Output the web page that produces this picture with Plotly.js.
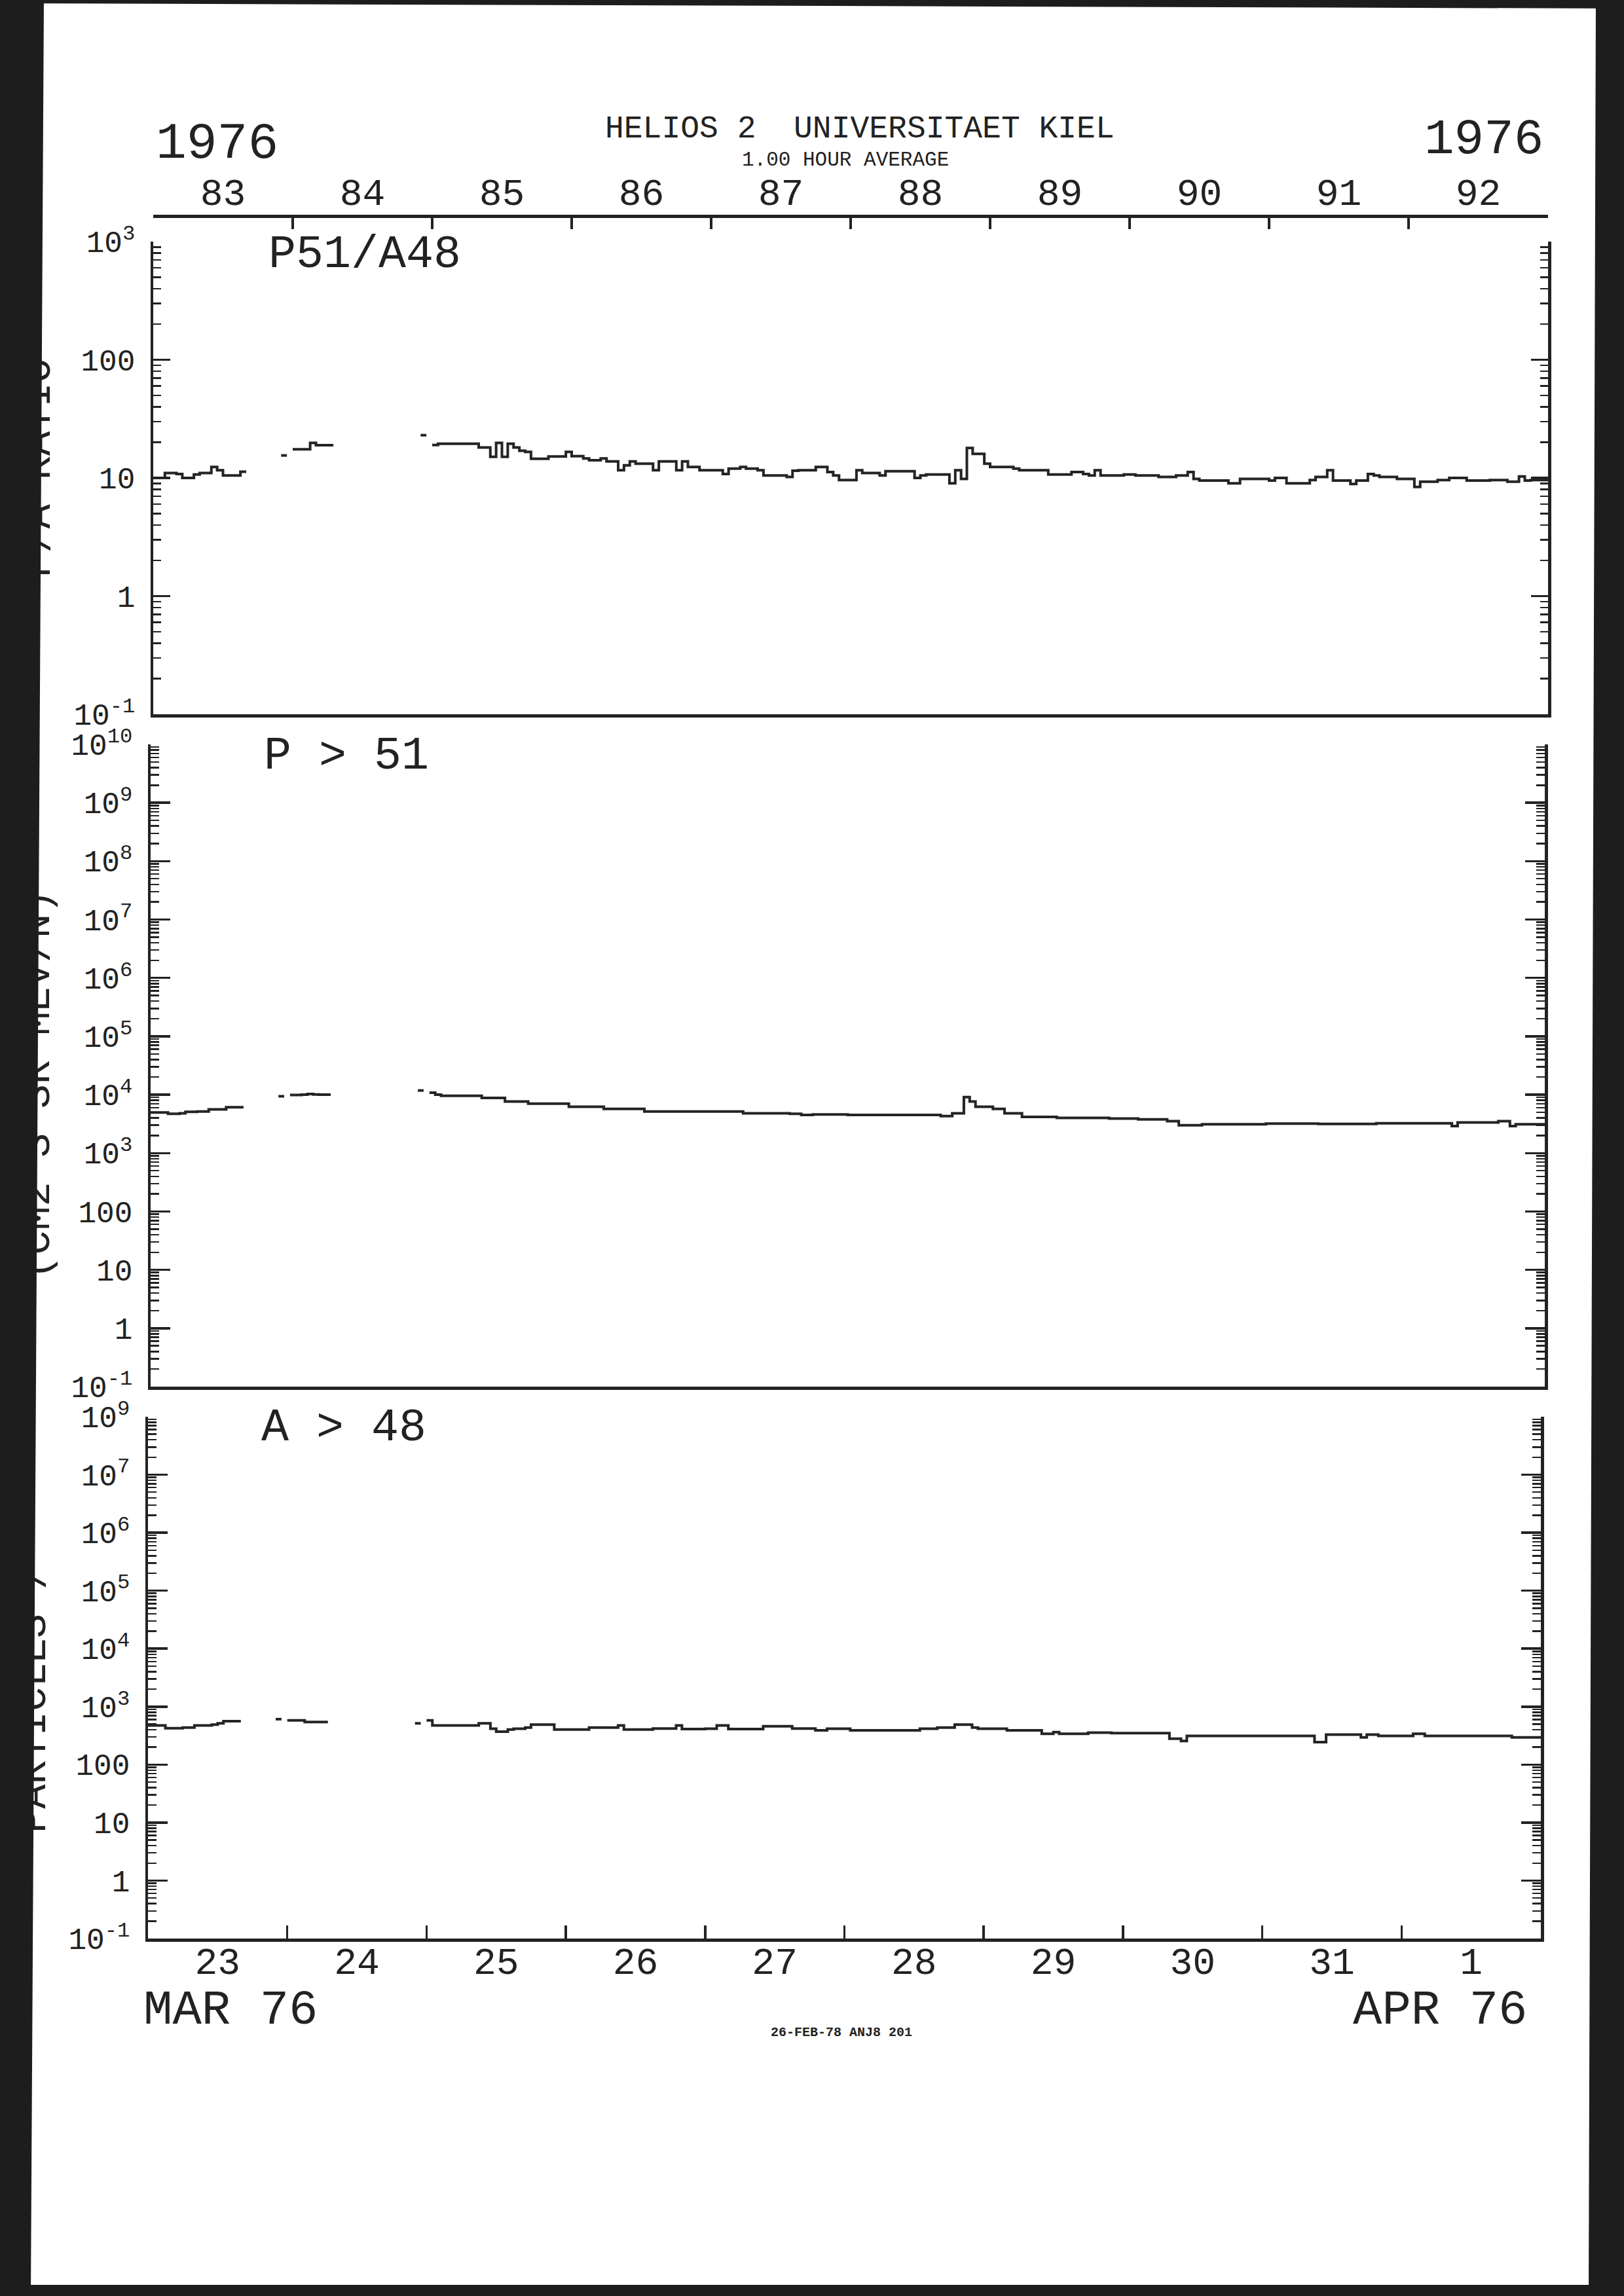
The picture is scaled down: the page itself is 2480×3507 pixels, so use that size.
<!DOCTYPE html>
<html>
<head>
<meta charset="utf-8">
<script src="https://cdn.plot.ly/plotly-3.0.1.min.js"></script>
<style>
html,body{margin:0;padding:0;background:#fff;}
#wrap{position:relative;width:2480px;height:3507px;overflow:hidden;}
#chart{position:absolute;left:0;top:0;width:2480px;height:3507px;}
.band{position:absolute;background:#1d1d1d;z-index:10;}
</style>
</head>
<body>
<div id="wrap">
<div id="chart"></div>
<div class="band" style="left:0;top:0;width:70px;height:3507px;clip-path:polygon(0 0,67px 0,47px 100%,0 100%);"></div>
<div class="band" style="left:2426px;top:0;width:54px;height:3507px;clip-path:polygon(11px 0,100% 0,100% 100%,0 100%);"></div>
<div class="band" style="left:0;top:0;width:2480px;height:14px;clip-path:polygon(0 0,100% 0,100% 13px,0 5px);"></div>
<div class="band" style="left:0;top:3490px;width:2480px;height:17px;"></div>
</div>
<script>
// ---------------- DATA (1-hour averages, hour 0 = 1976 day 83, 00:00) ----------------
const startDoy = 83;
const doyLabels = ['83','84','85','86','87','88','89','90','91','92'];
const dayLabels = ['23','24','25','26','27','28','29','30','31','1'];

// P51/A48 ratio, one value per hour (null = no data)
const ratioP51A48 = [
 10.0,10.0,11.0,11.0,10.8,10.0,10.0,10.7,11.0,11.0,12.4,11.6,10.5,10.5,10.5,11.3,null,null,null,null,null,null,15.5,null,
 17.5,17.5,17.5,19.8,18.9,18.9,18.9,null,null,null,null,null,null,null,null,null,null,null,null,null,null,null,23.0,null,
 19.0,19.5,19.5,19.5,19.5,19.5,19.5,19.5,18.1,18.1,15.1,19.8,15.1,19.5,18.1,17.0,16.6,14.5,14.5,14.5,15.2,15.2,15.2,16.6,
 15.3,15.3,14.6,14.1,14.1,14.6,13.8,13.8,11.6,12.8,13.8,13.2,13.2,13.2,11.6,13.8,13.8,13.8,11.6,13.8,12.4,12.4,11.6,11.6,
 11.6,11.6,10.8,12.0,12.0,12.4,12.0,12.0,11.6,10.5,10.5,10.5,10.5,10.2,11.5,11.6,11.6,11.6,12.4,12.4,11.2,10.5,9.6,9.6,
 9.6,11.6,11.0,11.0,11.0,10.5,11.4,11.4,11.4,11.4,11.4,10.0,10.5,10.7,10.7,10.7,10.7,9.0,11.6,9.8,17.9,16.0,16.0,13.2,
 12.4,12.4,12.4,12.4,12.0,11.6,11.6,11.6,11.6,11.6,10.7,10.7,10.7,10.7,11.2,11.2,10.8,10.5,11.6,10.5,10.5,10.5,10.5,10.7,
 10.7,10.5,10.5,10.5,10.5,10.2,10.2,10.2,10.5,10.5,11.2,9.8,9.5,9.5,9.5,9.5,9.5,9.0,9.0,9.8,9.8,9.8,9.8,9.8,
 9.5,10.0,10.0,9.0,9.0,9.0,9.0,9.6,10.2,10.2,11.6,9.5,9.5,9.5,8.9,9.5,9.5,10.8,10.5,10.2,10.2,10.2,9.8,9.8,
 9.8,8.4,9.3,9.3,9.3,9.6,9.6,10.0,10.0,10.0,9.5,9.5,9.5,9.5,9.6,9.6,9.6,9.3,9.3,10.3,9.5,9.6,9.6,9.6
];

// P > 51 intensity, one value per hour
const protonP51 = [
 4950,4950,4950,4700,4700,4800,5100,5100,5140,5140,5600,5600,5600,6100,6100,6100,null,null,null,null,null,null,9400,null,
 9900,9900,10000,10300,10100,10000,10000,null,null,null,null,null,null,null,null,null,null,null,null,null,null,null,11800,null,
 10800,10000,9600,9600,9600,9600,9600,9600,9600,8800,8800,8800,8800,7640,7640,7640,7640,7020,7020,7020,7020,7020,7020,7020,
 6220,6220,6220,6220,6220,6220,5700,5700,5700,5700,5700,5700,5700,5140,5140,5140,5140,5140,5140,5140,5140,5140,5140,5140,
 5140,5140,5140,5140,5140,5140,4800,4800,4800,4800,4800,4800,4800,4800,4700,4700,4500,4500,4600,4600,4600,4600,4600,4600,
 4500,4500,4500,4500,4500,4500,4500,4500,4500,4500,4500,4500,4500,4500,4500,4500,4300,4300,4800,4800,9100,7640,6220,6220,
 6220,5700,5700,4800,4800,4800,4180,4180,4180,4180,4180,4180,4000,4000,4000,4000,4000,4000,4000,4000,4000,3900,3900,3900,
 3900,3900,3770,3770,3770,3770,3770,3520,3520,3000,3000,3000,3000,3110,3110,3110,3110,3110,3110,3110,3110,3110,3110,3110,
 3200,3200,3200,3200,3200,3200,3200,3200,3200,3150,3150,3150,3150,3150,3150,3150,3150,3150,3150,3230,3230,3230,3230,3230,
 3230,3230,3230,3230,3230,3230,3230,3230,2900,3340,3340,3340,3340,3340,3340,3340,3520,3520,2900,3110,3110,3110,3110,3110
];

// A > 48 intensity, one value per hour
const alphaA48 = [
 474,474,474,423,423,423,436,436,474,474,474,491,515,560,560,560,null,null,null,null,null,null,608,null,
 578,578,578,542,542,542,542,null,null,null,null,null,null,null,null,null,null,null,null,null,null,null,515,null,
 578,474,474,474,474,474,474,474,474,515,515,415,370,370,402,415,415,436,491,491,491,491,402,402,
 402,402,402,402,436,436,436,436,436,474,402,402,402,402,402,420,420,420,420,474,410,410,410,410,
 415,415,474,474,410,410,410,410,410,410,460,460,460,460,460,420,420,420,420,390,390,415,415,415,
 415,390,390,390,390,390,390,390,390,390,390,390,390,415,415,415,436,436,436,491,491,491,436,415,
 415,415,415,415,390,390,390,390,390,390,340,340,362,340,340,340,340,340,355,355,355,355,350,350,
 350,350,350,350,350,350,350,350,279,279,255,313,313,313,313,313,313,313,313,313,313,313,313,313,
 313,313,313,313,313,313,313,313,313,244,244,330,330,330,330,330,330,294,330,330,313,313,313,313,
 313,313,340,340,313,313,313,313,313,313,313,313,313,313,313,313,313,313,313,294,294,294,294,294
];

const ratioTicks = [0.1, 1, 10, 100, 1000];
const ratioTickText = ['10<sup>-1</sup>','1','10','100','10<sup>3</sup>'];
const pTicks = [0.1,1,10,100,1e3,1e4,1e5,1e6,1e7,1e8,1e9,1e10];
const pTickText = ['10<sup>-1</sup>','1','10','100','10<sup>3</sup>','10<sup>4</sup>','10<sup>5</sup>','10<sup>6</sup>','10<sup>7</sup>','10<sup>8</sup>','10<sup>9</sup>','10<sup>10</sup>'];
const aTicks = [0.1,1,10,100,1e3,1e4,1e5,1e6,1e7,1e8];
const aTickText = ['10<sup>-1</sup>','1','10','100','10<sup>3</sup>','10<sup>4</sup>','10<sup>5</sup>','10<sup>6</sup>','10<sup>7</sup>','10<sup>9</sup>'];

// ---------------- HELPERS ----------------
const W = 2480, H = 3507;
const px = x => x / W;
const py = y => 1 - y / H;
const MONO = '"Liberation Mono","DejaVu Sans Mono",monospace';
const INK = '#222222';

function stepTrace(vals, xa, ya) {
  const x = [], y = [];
  for (let i = 0; i < vals.length; i++) {
    if (vals[i] === null) continue;
    x.push(startDoy + i / 24); y.push(vals[i]);
    if (i === vals.length - 1 || vals[i + 1] === null) {
      x.push(startDoy + (i + 1) / 24); y.push(vals[i]);
      x.push(null); y.push(null);
    }
  }
  return {x, y, xaxis: xa, yaxis: ya, type: 'scatter', mode: 'lines',
          line: {color: '#242424', width: 4, shape: 'hv'}, connectgaps: false,
          hoverinfo: 'skip', showlegend: false};
}
function minorVals(lo, hi) {
  const v = [];
  for (let k = lo; k < hi; k++) for (let d = 2; d <= 9; d++) v.push(d * Math.pow(10, k));
  return v;
}
const centers = doyLabels.map((_, i) => startDoy + i + 0.5);
const bounds = Array.from({length: 11}, (_, i) => startDoy + i);

function yAxis(dom, lo, hi, tv, tt, xa, majLen, minLen) {
  return {
    domain: dom, type: 'log', range: [lo, hi], anchor: xa,
    tickmode: 'array', tickvals: tv, ticktext: tt,
    ticks: 'inside', ticklen: majLen, tickwidth: 3.5, tickcolor: INK,
    minor: {tickmode: 'array', tickvals: minorVals(lo, hi), ticks: 'inside', ticklen: minLen, tickwidth: 2.5, tickcolor: INK, showgrid: false},
    showline: true, linewidth: 4.5, linecolor: INK, mirror: 'ticks',
    showgrid: false, zeroline: false, fixedrange: true,
    tickfont: {family: MONO, size: 46, color: INK}, ticklabelstandoff: 14
  };
}
function xPlain(dom, ya) {
  return {domain: dom, range: [83, 93], anchor: ya, showline: true, linewidth: 4.5, linecolor: INK,
          ticks: '', showticklabels: false, showgrid: false, zeroline: false, mirror: false, fixedrange: true};
}

const traces = [
  stepTrace(ratioP51A48, 'x', 'y'),
  stepTrace(protonP51, 'x2', 'y2'),
  stepTrace(alphaA48, 'x3', 'y3'),
  {x: [83], y: [null], xaxis: 'x4', yaxis: 'y', type: 'scatter', mode: 'lines', hoverinfo: 'skip', showlegend: false}
];

const ann = (text, x, y, size, xanchor, extra) => Object.assign({
  text, x: px(x), y: py(y), xref: 'paper', yref: 'paper', xanchor, yanchor: 'middle',
  showarrow: false, borderpad: 0, font: {family: MONO, size, color: INK}
}, extra || {});

const layout = {
  width: W, height: H, margin: {l: 0, r: 0, t: 0, b: 0},
  paper_bgcolor: '#ffffff', plot_bgcolor: 'rgba(0,0,0,0)', showlegend: false,
  xaxis: xPlain([px(234), px(2364)], 'y'),
  xaxis2: xPlain([px(230), px(2359)], 'y2'),
  xaxis3: Object.assign(xPlain([px(226), px(2353)], 'y3'), {
    showticklabels: true, tickmode: 'array', tickvals: centers, ticktext: dayLabels,
    ticks: 'inside', ticklen: 0, tickwidth: 0, ticklabelstandoff: -20,
    minor: {tickmode: 'array', tickvals: bounds.slice(1, 10), ticks: 'inside', ticklen: 20, tickwidth: 3.5, tickcolor: INK, showgrid: false},
    tickfont: {family: MONO, size: 58, color: INK}
  }),
  xaxis4: {
    overlaying: 'x', anchor: 'free', position: py(330), side: 'top', range: [83, 93],
    showline: true, linewidth: 4.5, linecolor: INK, showgrid: false, zeroline: false, fixedrange: true,
    tickmode: 'array', tickvals: centers, ticktext: doyLabels, ticks: 'inside', ticklen: 0, tickwidth: 0,
    ticklabelstandoff: -8,
    minor: {tickmode: 'array', tickvals: bounds, ticks: 'inside', ticklen: 17, tickwidth: 3.5, tickcolor: INK, showgrid: false},
    tickfont: {family: MONO, size: 58, color: INK}
  },
  yaxis: yAxis([py(1091), py(369)], -1, 3, ratioTicks, ratioTickText, 'x', 26, 12),
  yaxis2: yAxis([py(2118), py(1137)], -1, 10, pTicks, pTickText, 'x2', 30, 13),
  yaxis3: yAxis([py(2961), py(2164)], -1, 8, aTicks, aTickText, 'x3', 30, 13),
  annotations: [
    ann('1976', 237, 220, 78, 'left'),
    ann('1976', 2358, 214, 76, 'right'),
    ann('HELIOS 2\u00a0\u00a0UNIVERSITAET KIEL', 1313, 197, 48, 'center'),
    ann('1.00 HOUR AVERAGE', 1291, 245, 31, 'center'),
    ann('P51/A48', 409, 390, 70, 'left'),
    ann('P > 51', 402, 1156, 70, 'left'),
    ann('A > 48', 398, 2181, 70, 'left'),
    ann('MAR 76', 218, 3071, 74, 'left'),
    ann('APR 76', 2333, 3071, 74, 'right'),
    ann('<b>26-FEB-78 ANJ8 201</b>', 1285, 3104, 20, 'center'),
    ann('P/A RATIO', 60, 715, 62, 'center', {textangle: -90}),
    ann('(CM2 S SR MEV/N)', 58, 1657, 62, 'center', {textangle: -90}),
    ann('PARTICLES /', 52, 2596, 62, 'center', {textangle: -90})
  ]
};

Plotly.newPlot('chart', traces, layout, {staticPlot: true, displayModeBar: false});
</script>
</body>
</html>
